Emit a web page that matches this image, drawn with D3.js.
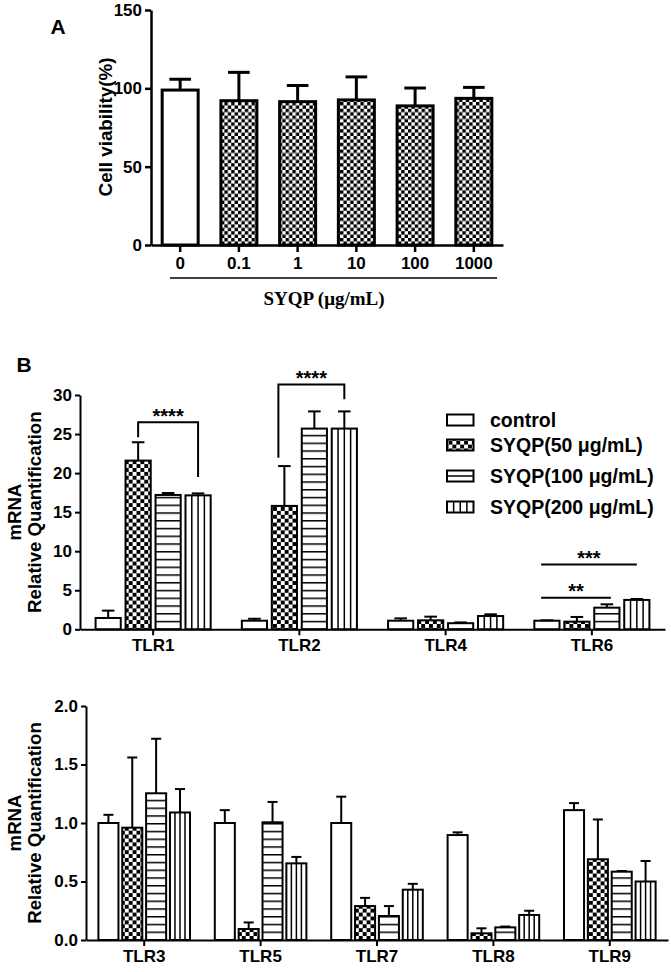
<!DOCTYPE html>
<html><head><meta charset="utf-8">
<script src="https://cdn.jsdelivr.net/npm/d3@7"></script>
<style>
body{margin:0;background:#fff}
svg text{font-family:Arial,"Liberation Sans",sans-serif;font-weight:bold;fill:#000}
</style></head><body>
<svg id="c" width="671" height="972"></svg>
<script>
// ---------- Panel A data ----------
const doseLabels = ["0", "0.1", "1", "10", "100", "1000"];
const viability = [98.9, 92.1, 91.5, 92.6, 88.8, 93.6];
const viabilityErrTop = [105.8, 110.2, 101.8, 107.3, 100.2, 100.6];
const viabilityTicks = [0, 50, 100, 150];

// ---------- Panel B / C data ----------
const series = ["control", "SYQP(50 μg/mL)", "SYQP(100 μg/mL)", "SYQP(200 μg/mL)"];

const genesTop = ["TLR1", "TLR2", "TLR4", "TLR6"];
const topControl = [1.45, 1.1, 1.1, 1.1];
const topSYQP50 = [21.6, 15.8, 1.15, 0.98];
const topSYQP100 = [17.2, 25.7, 0.78, 2.77];
const topSYQP200 = [17.15, 25.7, 1.7, 3.76];
const topControlErr = [2.39, 1.35, 1.4, 1.15];
const topSYQP50Err = [23.95, 20.9, 1.62, 1.58];
const topSYQP100Err = [17.45, 27.9, 0.88, 3.2];
const topSYQP200Err = [17.4, 27.9, 1.92, 3.88];
const topTicks = [0, 5, 10, 15, 20, 25, 30];

const genesBottom = ["TLR3", "TLR5", "TLR7", "TLR8", "TLR9"];
const botControl = [1.0, 1.0, 1.0, 0.897, 1.11];
const botSYQP50 = [0.96, 0.094, 0.29, 0.057, 0.69];
const botSYQP100 = [1.254, 1.006, 0.205, 0.108, 0.584];
const botSYQP200 = [1.09, 0.655, 0.43, 0.214, 0.50];
const botControlErr = [1.07, 1.11, 1.225, 0.92, 1.17];
const botSYQP50Err = [1.56, 0.15, 0.36, 0.10, 1.03];
const botSYQP100Err = [1.72, 1.18, 0.29, 0.115, 0.59];
const botSYQP200Err = [1.29, 0.71, 0.48, 0.25, 0.675];
const botTicks = [0, 0.5, 1.0, 1.5, 2.0];

// significance annotations
const sigGene = ["TLR1", "TLR2", "TLR6", "TLR6"];
const sigFrom = [1, 1, 0, 0];
const sigTo = [3, 3, 3, 2];
const sigLevel = [26.5, 31.35, 8.3, 4.05];
const sigLeftEnd = [24.6, 21.95, null, null];
const sigRightEnd = [19.5, 29.45, null, null];
const sigLabel = ["****", "****", "***", "**"];

// ---------- drawing ----------
const svg = d3.select("#c");
const defs = svg.append("defs");

function checker(id, c) {
  const p = defs.append("pattern").attr("id", id).attr("patternUnits", "userSpaceOnUse")
    .attr("width", 2 * c).attr("height", 2 * c);
  p.append("rect").attr("width", 2 * c).attr("height", 2 * c).attr("fill", "#fff");
  p.append("rect").attr("width", c).attr("height", c).attr("fill", "#000");
  p.append("rect").attr("x", c).attr("y", c).attr("width", c).attr("height", c).attr("fill", "#000");
}
function hlines(id, step, y0) {
  const p = defs.append("pattern").attr("id", id).attr("patternUnits", "userSpaceOnUse")
    .attr("width", 10).attr("height", step).attr("patternTransform", `translate(0,${y0 - 0.75})`);
  p.append("rect").attr("width", 10).attr("height", step).attr("fill", "#fff");
  p.append("rect").attr("width", 10).attr("height", 1.5).attr("fill", "#000");
}
checker("chkA", 3.4);
checker("chkB", 3.9);

function styleAxis(g, fs, sw) {
  g.select(".domain").attr("stroke", "#000").attr("stroke-width", sw);
  g.selectAll(".tick line").attr("stroke", "#000").attr("stroke-width", sw);
  g.selectAll(".tick text").style("font-size", fs + "px").attr("fill", "#000");
  g.attr("font-family", null);
}

// ----- Panel A -----
{
  const x = d3.scaleBand().domain(doseLabels).range([151, 503]).paddingInner(0.387).paddingOuter(0.19);
  const y = d3.scaleLinear().domain([0, 150]).range([245, 10]);
  const g = svg.append("g");
  const bw = x.bandwidth();
  g.selectAll("rect.bar").data(doseLabels).join("rect").attr("class", "bar")
    .attr("x", d => x(d)).attr("width", bw)
    .attr("y", (d, i) => y(viability[i])).attr("height", (d, i) => y(0) - y(viability[i]))
    .attr("fill", (d, i) => i === 0 ? "#fff" : "url(#chkA)")
    .attr("stroke", "#000").attr("stroke-width", 3);
  const eb = g.selectAll("g.err").data(doseLabels).join("g");
  eb.append("line").attr("x1", d => x(d) + bw / 2).attr("x2", d => x(d) + bw / 2)
    .attr("y1", (d, i) => y(viability[i])).attr("y2", (d, i) => y(viabilityErrTop[i]))
    .attr("stroke", "#000").attr("stroke-width", 3);
  eb.append("line").attr("x1", d => x(d) + bw * 0.2).attr("x2", d => x(d) + bw * 0.8)
    .attr("y1", (d, i) => y(viabilityErrTop[i])).attr("y2", (d, i) => y(viabilityErrTop[i]))
    .attr("stroke", "#000").attr("stroke-width", 3);

  const ya = g.append("g").attr("transform", "translate(151,0)")
    .call(d3.axisLeft(y).tickValues(viabilityTicks).tickSize(6).tickPadding(3).tickSizeOuter(0));
  styleAxis(ya, 17, 2.5);
  const xa = g.append("g").attr("transform", "translate(0,245)")
    .call(d3.axisBottom(x).tickSize(7).tickPadding(5).tickSizeOuter(0));
  styleAxis(xa, 17, 2.5);
  g.append("line").attr("x1", 170).attr("x2", 497).attr("y1", 278).attr("y2", 278)
    .attr("stroke", "#000").attr("stroke-width", 1.5);
  g.append("text").attr("x", 324).attr("y", 298).attr("dy", "0.35em").attr("text-anchor", "middle")
    .style("font-family", "'Times New Roman','Liberation Serif',serif").style("font-size", "19px")
    .text("SYQP (μg/mL)");
  g.append("text").attr("transform", "translate(105,127) rotate(-90)").attr("dy", "0.35em")
    .attr("text-anchor", "middle").style("font-size", "18.8px").text("Cell viability(%)");
  svg.append("text").attr("x", 58).attr("y", 27).attr("dy", "0.35em").attr("text-anchor", "middle")
    .style("font-size", "21px").text("A");
}

// ----- grouped panels -----
function grouped(o) {
  const g = svg.append("g");
  const x0 = d3.scaleBand().domain(o.genes).range(o.xRange);
  const x1 = d3.scaleBand().domain(series).range([0, x0.bandwidth()]).paddingInner(0.16).paddingOuter(0.52);
  const y = d3.scaleLinear().domain(o.yDomain).range(o.yRange);
  const bw = x1.bandwidth();
  hlines(o.hId, 7.75, y(0));
  const fills = ["#fff", "url(#chkB)", `url(#${o.hId})`, "#fff"];
  const rows = [];
  o.genes.forEach((gene, gi) => series.forEach((s, si) => rows.push({
    gene, s, si, v: o.vals[si][gi], e: o.errs[si][gi]
  })));
  const bx = d => x0(d.gene) + x1(d.s);
  g.selectAll("rect.bar").data(rows).join("rect").attr("class", "bar")
    .attr("x", bx).attr("width", bw)
    .attr("y", d => y(d.v)).attr("height", d => y(0) - y(d.v))
    .attr("fill", d => fills[d.si]).attr("stroke", "none");
  const vrows = rows.filter(d => d.si === 3).flatMap(d => [1, 2, 3].map(k => ({ d, k })));
  g.selectAll("line.vs").data(vrows).join("line").attr("class", "vs")
    .attr("x1", r => bx(r.d) + bw * r.k / 4).attr("x2", r => bx(r.d) + bw * r.k / 4)
    .attr("y1", r => y(r.d.v)).attr("y2", y(0))
    .attr("stroke", "#000").attr("stroke-width", 1.5);
  g.selectAll("rect.outline").data(rows).join("rect").attr("class", "outline")
    .attr("x", bx).attr("width", bw)
    .attr("y", d => y(d.v)).attr("height", d => y(0) - y(d.v))
    .attr("fill", "none").attr("stroke", "#000").attr("stroke-width", 2);
  g.selectAll("line.ev").data(rows).join("line").attr("class", "ev")
    .attr("x1", d => bx(d) + bw / 2).attr("x2", d => bx(d) + bw / 2)
    .attr("y1", d => y(d.v)).attr("y2", d => y(d.e))
    .attr("stroke", "#000").attr("stroke-width", 2);
  g.selectAll("line.ec").data(rows).join("line").attr("class", "ec")
    .attr("x1", d => bx(d) + bw * 0.25).attr("x2", d => bx(d) + bw * 0.75)
    .attr("y1", d => y(d.e)).attr("y2", d => y(d.e))
    .attr("stroke", "#000").attr("stroke-width", 2);

  const ya = g.append("g").attr("transform", `translate(${o.xRange[0]},0)`)
    .call(d3.axisLeft(y).tickValues(o.ticks).tickFormat(o.fmt).tickSize(5).tickPadding(3).tickSizeOuter(0));
  styleAxis(ya, 17, 2);
  const xa = g.append("g").attr("transform", `translate(0,${y(0)})`)
    .call(d3.axisBottom(x0).tickSize(6).tickPadding(4).tickSizeOuter(0));
  styleAxis(xa, 17, 2);

  const cy = (o.yRange[0] + o.yRange[1]) / 2;
  g.append("text").attr("transform", `translate(14,${cy}) rotate(-90)`).attr("dy", "0.35em")
    .attr("text-anchor", "middle").style("font-size", "18.6px").text("mRNA");
  g.append("text").attr("transform", `translate(34,${cy}) rotate(-90)`).attr("dy", "0.35em")
    .attr("text-anchor", "middle").style("font-size", "18.6px").text("Relative Quantification");
  return { g, x0, x1, y, bw };
}

const topPanel = grouped({
  genes: genesTop, vals: [topControl, topSYQP50, topSYQP100, topSYQP200],
  errs: [topControlErr, topSYQP50Err, topSYQP100Err, topSYQP200Err],
  xRange: [80, 665], yDomain: [0, 30], yRange: [629.3, 395], ticks: topTicks, fmt: d3.format("d"), hId: "hB"
});
grouped({
  genes: genesBottom, vals: [botControl, botSYQP50, botSYQP100, botSYQP200],
  errs: [botControlErr, botSYQP50Err, botSYQP100Err, botSYQP200Err],
  xRange: [86, 668], yDomain: [0, 2], yRange: [940, 706], ticks: botTicks, fmt: d3.format(".1f"), hId: "hC"
});

svg.append("text").attr("x", 24).attr("y", 365).attr("dy", "0.35em").attr("text-anchor", "middle")
  .style("font-size", "21px").text("B");

// significance marks
{
  const { g, x0, x1, y, bw } = topPanel;
  sigGene.forEach((gene, i) => {
    let fx = sigFrom[i] === 0 ? x0(gene) + x1(series[0]) + bw * 0.27 : x0(gene) + x1(series[sigFrom[i]]) + bw / 2;
    if (gene === "TLR2") fx -= 6;
    const tx = x0(gene) + x1(series[sigTo[i]]) + bw / 2 + (sigTo[i] === 2 ? 4 : 0);
    const yl = y(sigLevel[i]);
    let pts = [[fx, yl], [tx, yl]];
    if (sigLeftEnd[i] !== null) pts = [[fx, y(sigLeftEnd[i])], [fx, yl], [tx, yl], [tx, y(sigRightEnd[i])]];
    g.append("path").attr("d", d3.line()(pts)).attr("fill", "none").attr("stroke", "#000").attr("stroke-width", 2);
    g.append("text").attr("x", (fx + tx) / 2).attr("y", yl + 0.5).attr("text-anchor", "middle")
      .style("font-size", "20px").text(sigLabel[i]);
  });
}

// legend
{
  const lg = svg.append("g");
  const rowY = [420, 445, 476, 507];
  const fills = ["#fff", "url(#chkB)", "#fff", "#fff"];
  series.forEach((s, i) => {
    const yy = rowY[i];
    lg.append("rect").attr("x", 447).attr("y", yy - 5.5).attr("width", 26.5).attr("height", 11)
      .attr("fill", fills[i]).attr("stroke", "#000").attr("stroke-width", 2);
    if (i === 2) lg.append("line").attr("x1", 447).attr("x2", 473.5).attr("y1", yy).attr("y2", yy)
      .attr("stroke", "#000").attr("stroke-width", 1.5);
    if (i === 3) [1, 2, 3].forEach(k => lg.append("line").attr("x1", 447 + 26.5 * k / 4).attr("x2", 447 + 26.5 * k / 4)
      .attr("y1", yy - 5.5).attr("y2", yy + 5.5).attr("stroke", "#000").attr("stroke-width", 1.5));
    lg.append("text").attr("x", 490).attr("y", yy).attr("dy", "0.35em").style("font-size", "19.5px").text(s);
  });
}
</script>
</body></html>
